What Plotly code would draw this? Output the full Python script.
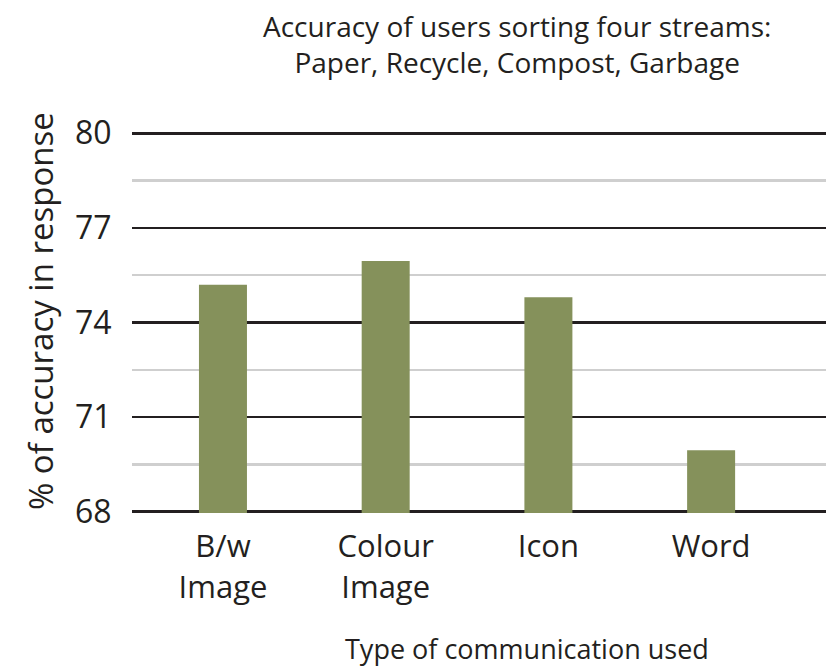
import plotly.graph_objects as go

categories = ["B/w<br>Image", "Colour<br>Image", "Icon", "Word"]
accuracy = [75.2, 75.95, 74.8, 69.95]
y_ticks = [68, 71, 74, 77, 80]

TXT = "#231f20"
FONT = "Open Sans"

W, H = 826, 666
L, R, T, B = 132, 0, 132, 153
pw, ph = W - L - R, H - T - B

def px(x):
    return (x - L) / pw

def py(y):
    return (H - B - y) / ph

fig = go.Figure(go.Bar(
    x=list(range(len(categories))),
    y=accuracy,
    width=0.295,
    marker=dict(color="#85915b", line=dict(width=0)),
    hoverinfo="skip",
))

fig.update_layout(
    width=W, height=H,
    margin=dict(l=L, r=R, t=T, b=B, autoexpand=False),
    plot_bgcolor="white", paper_bgcolor="white",
    showlegend=False,
    font=dict(family=FONT, color=TXT, size=28),
    xaxis=dict(
        range=[-0.559, 3.706],
        automargin=False,
        tickmode="array",
        tickvals=list(range(len(categories))),
        ticktext=categories,
        showgrid=False, zeroline=False, showline=False,
        ticks="outside", ticklen=6, tickcolor="rgba(0,0,0,0)",
        tickfont=dict(family=FONT, size=31, color=TXT),
    ),
    yaxis=dict(
        range=[67.96, 80.04],
        automargin=False,
        tickmode="array",
        tickvals=y_ticks,
        ticktext=[str(v) for v in y_ticks],
        showgrid=True, gridcolor=TXT, gridwidth=2.5,
        zeroline=False, showline=False,
        ticks="outside", ticklen=13, tickcolor="rgba(0,0,0,0)",
        tickfont=dict(family=FONT, size=32, color=TXT),
        minor=dict(tickmode="array", tickvals=[69.5, 72.5, 75.5, 78.5],
                   showgrid=True, gridcolor="#cfcfcf", gridwidth=2.5),
    ),
    annotations=[
        dict(text="Accuracy of users sorting four streams:<br>Paper, Recycle, Compost, Garbage",
             xref="paper", yref="paper", x=px(517), y=py(44),
             xanchor="center", yanchor="middle", showarrow=False,
             font=dict(family=FONT, size=28, color=TXT)),
        dict(text="Type of communication used",
             xref="paper", yref="paper", x=px(527), y=py(648),
             xanchor="center", yanchor="middle", showarrow=False,
             font=dict(family=FONT, size=27, color=TXT)),
        dict(text="% of accuracy in response",
             xref="paper", yref="paper", x=px(40), y=py(311),
             xanchor="center", yanchor="middle", showarrow=False, textangle=-90,
             font=dict(family=FONT, size=33, color=TXT)),
    ],
)

fig.write_html(
    "out.html",
    config={"displayModeBar": False, "staticPlot": True},
    post_script="document.body.style.margin='0';document.body.style.overflow='hidden';",
)
